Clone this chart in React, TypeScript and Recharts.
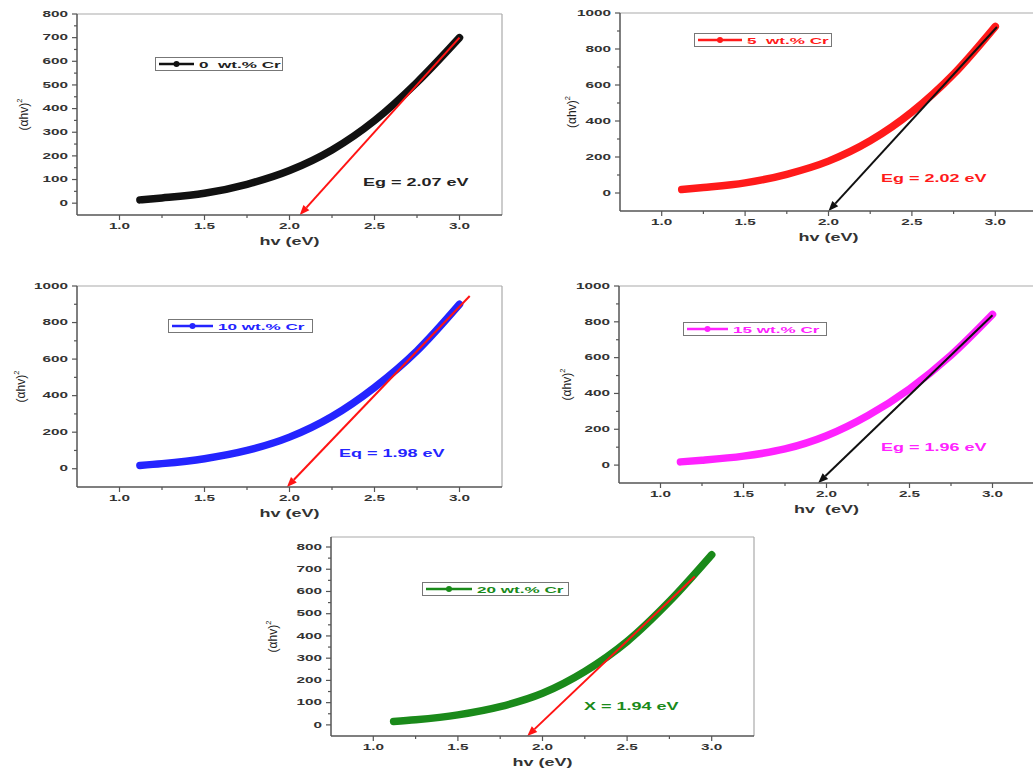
import React from 'react';
import { LineChart, Line, XAxis, YAxis, ReferenceLine, Legend } from 'recharts';

// photon energy (eV) where the curves are read
const hv = [1.12, 1.25, 1.5, 1.75, 2.0, 2.25, 2.5, 2.75, 3.0];

// (alpha h v)^2 for each Cr content
const cr0 = [14, 22, 42, 80, 138, 225, 349, 511, 700];
const cr5 = [19, 30, 56, 104, 177, 290, 450, 660, 925];
const cr10 = [18, 28, 55, 100, 173, 286, 445, 645, 900];
const cr15 = [18, 27, 50, 90, 164, 277, 425, 613, 841];
const cr20 = [15, 23, 45, 82, 142, 240, 375, 555, 765];

const seriesNames = ['0  wt.% Cr', '5  wt.% Cr', '10 wt.% Cr', '15 wt.% Cr', '20 wt.% Cr'];
const gapLabels = ['Eg = 2.07 eV', 'Eg = 2.02 eV', 'Eq = 1.98 eV', 'Eg = 1.96 eV', 'X = 1.94 eV'];
const xTitles = ['hv (eV)', 'hv (eV)', 'hv (eV)', 'hv  (eV)', 'hv (eV)'];

// tangent lines: start point and arrow tip
const fitStart = [{ x: 3.0, y: 700 }, { x: 3.01, y: 922 }, { x: 3.06, y: 945 }, { x: 3.0, y: 837 }, { x: 2.9, y: 667 }];
const fitEnd = [{ x: 2.06, y: -50 }, { x: 2.0, y: -100 }, { x: 1.985, y: -100 }, { x: 1.95, y: -100 }, { x: 1.91, y: -50 }];

const xTicks = [1.0, 1.25, 1.5, 1.75, 2.0, 2.25, 2.5, 2.75, 3.0];
const yTicks800 = [0, 50, 100, 150, 200, 250, 300, 350, 400, 450, 500, 550, 600, 650, 700, 750, 800];
const yTicks1000 = [0, 100, 200, 300, 400, 500, 600, 700, 800, 900, 1000];

const FONT = '"Liberation Sans", Arial, sans-serif';
const STRETCH = 1.8;

const series = [cr0, cr5, cr10, cr15, cr20];

// legend: [left, top, width, text offset]
const panels = [
  { px: 77, py: 14, pw: 425, ph: 201, yMin: -50, yMax: 800, yTicks: yTicks800, major: 100, color: '#111111', text: '#222222', fit: '#ff1414', legend: [155, 57, 128, 44], note: [363, 183], yGap: 53 },
  { px: 620, py: 13, pw: 417, ph: 198, yMin: -100, yMax: 1000, yTicks: yTicks1000, major: 200, color: '#ff1a1a', text: '#ff1a1a', fit: '#111111', legend: [694, 33, 138, 53], note: [881, 179], yGap: 48 },
  { px: 77, py: 286, pw: 425, ph: 201, yMin: -100, yMax: 1000, yTicks: yTicks1000, major: 200, color: '#2424ff', text: '#2424ff', fit: '#ff1414', legend: [168, 319, 145, 50], note: [339, 454], yGap: 56 },
  { px: 619, py: 286, pw: 415, ph: 197, yMin: -100, yMax: 1000, yTicks: yTicks1000, major: 200, color: '#ff22ff', text: '#ff22ff', fit: '#111111', legend: [683, 322, 144, 50], note: [881, 448], yGap: 52 },
  { px: 331, py: 537, pw: 423, ph: 199, yMin: -50, yMax: 845, yTicks: yTicks800, major: 100, color: '#1a8a1a', text: '#1a8a1a', fit: '#ff1414', legend: [422, 582, 147, 55], note: [584, 707], yGap: 58 },
];

const Wide = ({ x, y, size, fill, anchor = 'middle', children }: any) => (
  <text
    transform={`translate(${x},${y}) scale(${STRETCH},1)`}
    fontFamily={FONT}
    fontWeight="bold"
    fontSize={size}
    fill={fill}
    textAnchor={anchor}
    dominantBaseline="central"
    style={{ whiteSpace: 'pre' }}
  >
    {children}
  </text>
);

const XTick = ({ x, y, payload }: any) => {
  const v = payload.value;
  const major = Math.round(v * 100) % 50 === 0;
  return (
    <g>
      <line x1={x} x2={x} y1={y} y2={y + (major ? 5 : 3)} stroke="#555" strokeWidth={1.2} />
      {major && <Wide x={x} y={y + 11} size={8.5} fill="#333">{v.toFixed(1)}</Wide>}
    </g>
  );
};

const makeYTick = (step: number) => ({ x, y, payload }: any) => {
  const v = payload.value;
  const major = v % step === 0;
  return (
    <g>
      <line x1={x - (major ? 5 : 3)} x2={x} y1={y} y2={y} stroke="#555" strokeWidth={1.2} />
      {major && <Wide x={x - 9} y={y} size={8.5} fill="#333" anchor="end">{v}</Wide>}
    </g>
  );
};

const makeArrow = (color: string) => (props: any) => {
  const { x1, y1, x2, y2 } = props;
  const a = Math.atan2(y2 - y1, x2 - x1);
  const L = 10;
  const W = 4;
  const bx = x2 - L * Math.cos(a);
  const by = y2 - L * Math.sin(a);
  const pts = `${x2},${y2} ${bx + W * Math.sin(a)},${by - W * Math.cos(a)} ${bx - W * Math.sin(a)},${by + W * Math.cos(a)}`;
  return (
    <g>
      <line x1={x1} y1={y1} x2={bx} y2={by} stroke={color} strokeWidth={2} />
      <polygon points={pts} fill={color} />
    </g>
  );
};

const AXIS_W = 77;
const TOP = 10;
const RIGHT = 10;
const XAXIS_H = 40;

const Panel = ({ i }: { i: number }) => {
  const p = panels[i];
  const data = hv.map((x, k) => ({ x, y: series[i][k] }));
  const left = p.px - AXIS_W;
  const top = p.py - TOP;
  const width = p.pw + AXIS_W + RIGHT;
  const height = p.ph + TOP + XAXIS_H;
  const [lx, ly, lw, lt] = p.legend;

  const legendBox = () => (
    <svg width={lw} height={14} style={{ display: 'block' }}>
      <rect x={0.5} y={0.5} width={lw - 1} height={13} fill="#fff" stroke="#777" strokeWidth={1} />
      <line x1={4} x2={lt - 5} y1={7} y2={7} stroke={p.color} strokeWidth={2.5} />
      <circle cx={(lt - 1) / 2} cy={7} r={3} fill={p.color} />
      <Wide x={lt} y={7.5} size={9.5} fill={p.text} anchor="start">{seriesNames[i]}</Wide>
    </svg>
  );

  return (
    <div style={{ position: 'absolute', left, top }}>
      <LineChart width={width} height={height} data={data} margin={{ top: TOP, right: RIGHT, bottom: 0, left: 0 }}>
        <XAxis
          type="number"
          dataKey="x"
          domain={[0.75, 3.25]}
          ticks={xTicks}
          interval={0}
          allowDataOverflow
          height={XAXIS_H}
          tickSize={0}
          tickMargin={0}
          tickLine={false}
          tick={<XTick />}
          axisLine={{ stroke: '#555', strokeWidth: 1.5 }}
          label={(props: any) => {
            const vb = props.viewBox;
            return <Wide x={vb.x + vb.width / 2} y={vb.y + 27} size={10} fill="#333">{xTitles[i]}</Wide>;
          }}
        />
        <YAxis
          type="number"
          domain={[p.yMin, p.yMax]}
          ticks={p.yTicks}
          interval={0}
          allowDataOverflow
          width={AXIS_W}
          tickSize={0}
          tickMargin={0}
          tickLine={false}
          tick={makeYTick(p.major)}
          axisLine={{ stroke: '#555', strokeWidth: 1.5 }}
          label={(props: any) => {
            const vb = props.viewBox;
            const cx = vb.x + vb.width - p.yGap;
            const cy = vb.y + vb.height / 2;
            return (
              <text transform={`translate(${cx},${cy}) rotate(-90)`} textAnchor="middle" fontFamily={FONT} fontSize={12} fill="#222" dominantBaseline="central">
                (αhv)<tspan fontSize={7.5} dy={-5}>2</tspan>
              </text>
            );
          }}
        />
        <ReferenceLine y={p.yMax} stroke="#aaa" strokeWidth={1.2} />
        <ReferenceLine x={3.25} stroke="#aaa" strokeWidth={1.2} />
        <Line
          type="monotone"
          dataKey="y"
          name={seriesNames[i]}
          stroke={p.color}
          strokeWidth={7.5}
          strokeLinecap="round"
          strokeLinejoin="round"
          dot={false}
          activeDot={false}
          isAnimationActive={false}
        />
        <ReferenceLine segment={[fitStart[i], fitEnd[i]]} ifOverflow="visible" shape={makeArrow(p.fit)} />
        <Legend
          layout="vertical"
          align="center"
          verticalAlign="middle"
          content={legendBox}
          wrapperStyle={{ left: lx - left, top: ly - top, width: lw, height: 14 }}
        />
      </LineChart>
      <div
        style={{
          position: 'absolute',
          left: p.note[0] - left,
          top: p.note[1] - top - 7,
          height: 14,
          lineHeight: '14px',
          fontFamily: FONT,
          fontWeight: 700,
          fontSize: 10,
          color: p.text,
          whiteSpace: 'pre',
          transform: `scaleX(${STRETCH})`,
          transformOrigin: '0 50%',
        }}
      >
        {gapLabels[i]}
      </div>
    </div>
  );
};

export default function App() {
  return (
    <div style={{ position: 'absolute', left: 0, top: 0, width: 1033, height: 772, overflow: 'hidden', background: '#fff' }}>
      {panels.map((_, i) => (
        <Panel key={i} i={i} />
      ))}
    </div>
  );
}
